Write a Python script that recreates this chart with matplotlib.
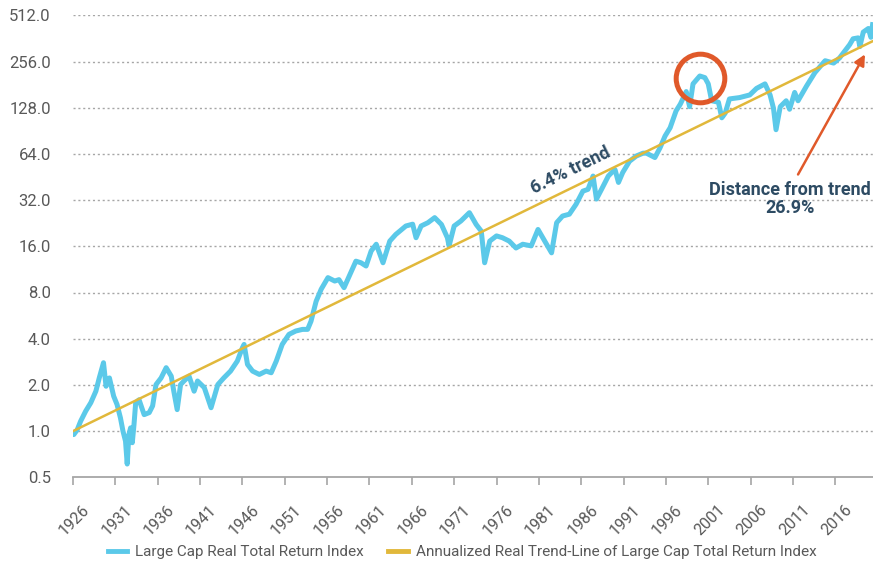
import numpy as np
import matplotlib
matplotlib.use("Agg")
import matplotlib.pyplot as plt
from matplotlib.lines import Line2D
from matplotlib.transforms import ScaledTranslation

plt.rcParams['font.family'] = ['Roboto', 'DejaVu Sans']

# Large cap real total return index (1926 = 1.0)
years = [1926.0, 1926.1, 1926.5, 1926.9, 1927.5, 1928.1, 1928.7, 1929.1, 1929.6, 1929.9,
         1930.3, 1930.8, 1931.2, 1931.6, 1931.9, 1932.2, 1932.4, 1932.6, 1932.8, 1933.0,
         1933.2, 1933.4, 1933.8, 1934.4, 1935.0, 1935.4, 1935.8, 1936.4, 1937.0, 1937.6,
         1937.9, 1938.3, 1938.7, 1939.1, 1939.7, 1940.3, 1940.7, 1941.5, 1942.3, 1943.1,
         1943.8, 1944.6, 1945.4, 1946.0, 1946.2, 1946.6, 1947.2, 1948.0, 1948.8, 1949.4,
         1950.0, 1950.7, 1951.5, 1952.3, 1953.1, 1953.7, 1954.1, 1954.7, 1955.3, 1956.1,
         1956.9, 1957.4, 1958.0, 1958.6, 1959.4, 1960.0, 1960.6, 1961.2, 1961.8, 1962.6,
         1963.4, 1964.1, 1965.3, 1966.1, 1966.5, 1967.1, 1967.9, 1968.7, 1969.5, 1970.2,
         1970.4, 1971.0, 1971.8, 1972.8, 1973.6, 1974.2, 1974.6, 1975.2, 1976.0, 1976.7,
         1977.5, 1978.3, 1979.1, 1980.1, 1980.9, 1981.7, 1982.5, 1983.1, 1983.8, 1984.6,
         1985.4, 1986.2, 1986.8, 1987.4, 1987.8, 1988.4, 1989.2, 1989.6, 1990.0, 1990.4,
         1990.9, 1991.7, 1992.5, 1993.3, 1993.7, 1994.7, 1995.3, 1995.9, 1996.5, 1997.2,
         1997.7, 1998.4, 1998.8, 1999.2, 2000.0, 2000.6, 2001.0, 2001.4, 2002.2, 2002.6,
         2003.0, 2003.5, 2004.7, 2005.9, 2006.7, 2007.7, 2008.3, 2008.7, 2009.0, 2009.5,
         2010.2, 2010.6, 2011.2, 2011.6, 2012.6, 2013.6, 2014.8, 2015.8, 2016.5, 2017.7,
         2018.1, 2018.7, 2018.9, 2019.3, 2019.9, 2020.2, 2020.4]
index_vals = [0.95, 0.95, 1.02, 1.16, 1.35, 1.53, 1.82, 2.22, 2.79, 1.96,
              2.22, 1.69, 1.49, 1.22, 1.00, 0.86, 0.61, 0.95, 1.05, 0.84,
              1.10, 1.53, 1.60, 1.28, 1.32, 1.46, 2.01, 2.22, 2.59, 2.28,
              1.82, 1.38, 2.01, 2.12, 2.28, 1.82, 2.12, 1.92, 1.42, 2.01,
              2.22, 2.46, 2.86, 3.49, 3.67, 2.72, 2.46, 2.34, 2.46, 2.40,
              2.86, 3.67, 4.27, 4.49, 4.60, 4.60, 5.2, 7.0, 8.4, 10.0,
              9.5, 9.7, 8.6, 10.2, 12.8, 12.5, 11.9, 14.9, 16.5, 12.5,
              17.3, 19.1, 21.7, 22.3, 18.2, 21.7, 22.8, 24.6, 22.2, 18.2,
              16.1, 21.7, 23.4, 26.5, 22.2, 20.1, 12.5, 17.3, 18.7, 18.2,
              17.3, 15.6, 16.5, 16.1, 20.6, 17.3, 14.5, 22.8, 25.2, 25.9,
              30.1, 36.6, 37.6, 45.9, 32.5, 37.6, 45.9, 48.4, 50.4, 41.7,
              48.4, 57.3, 62.0, 64.7, 64.7, 60.6, 70.0, 83.7, 94.8, 122,
              135, 163, 130, 183, 206, 201, 183, 142, 139, 110,
              118, 146, 149, 155, 171, 183, 155, 127, 92, 130,
              142, 125, 161, 142, 177, 217, 259, 250, 270, 330,
              360, 365, 320, 398, 420, 368, 445]

# annualized 6.4% trend line (end points)
trend_years = [1926.0, 2020.45]
trend_vals = [1.0, 348.0]

tick_years = list(range(1926, 2017, 5))
y_ticks = [0.5, 1, 2, 4, 8, 16, 32, 64, 128, 256, 512]

blue = '#5BC9E9'
gold = '#E1B83B'
orange = '#E0592A'
navy = '#2D4B63'
grey_txt = '#595959'

fig = plt.figure(figsize=(8.73, 5.62), dpi=100)
ax = fig.add_axes([73 / 873, 1 - 477.3 / 562, 1 - 73 / 873, (477.3 - 15.3) / 562])

ax.plot(years, index_vals, color=blue, lw=3.6, solid_joinstyle='round', zorder=3)
ax.plot(trend_years, trend_vals, color=gold, lw=1.8, zorder=4)

ax.set_yscale('log', base=2)
ax.set_ylim(0.5, 512)
ax.set_xlim(1926, 2020.45)
ax.set_yticks(y_ticks)
ax.set_yticklabels([f"{v:.1f}" for v in y_ticks])
ax.minorticks_off()
ax.set_xticks(tick_years)
ax.set_xticklabels([str(y) for y in tick_years], rotation=45, ha='right',
                   rotation_mode='anchor')

for v in y_ticks[1:]:
    ax.axhline(v, color='#A6A6A6', lw=1.0, ls=(0, (1.5, 2)), zorder=1)

for s in ['top', 'right', 'left']:
    ax.spines[s].set_visible(False)
ax.spines['bottom'].set_color('#A6A6A6')
ax.spines['bottom'].set_linewidth(1.3)
ax.tick_params(axis='y', length=0, pad=16, labelsize=12, labelcolor=grey_txt)
ax.tick_params(axis='x', length=6, width=1.2, color='#A6A6A6', pad=12,
               labelsize=11.5, labelcolor=grey_txt)
for lbl in ax.get_xticklabels():
    lbl.set_transform(lbl.get_transform() + ScaledTranslation(9 / 100, 0, fig.dpi_scale_trans))

# circle around 2000 peak
ax.plot(2000.05, 200, marker='o', ms=35, mfc='none', mec=orange, mew=3.6, zorder=5, clip_on=False)

# trend label
ax.text(1984.8, 49.5, '6.4% trend', rotation=26, rotation_mode='anchor',
        ha='center', va='center', fontsize=13, fontweight='bold', color=navy)

# distance from trend
ax.annotate('', xy=(2019.5, 285), xytext=(2011.6, 47),
            arrowprops=dict(arrowstyle='-|>', color=orange, lw=1.8,
                            mutation_scale=16, shrinkA=0, shrinkB=0))
ax.text(2010.6, 32.5, 'Distance from trend\n26.9%', ha='center', va='center',
        fontsize=13, fontweight='bold', color=navy, linespacing=1.05)

handles = [Line2D([], [], color=blue, lw=3.5),
           Line2D([], [], color=gold, lw=3.5)]
labels = ['Large Cap Real Total Return Index',
          'Annualized Real Trend-Line of Large Cap Total Return Index']
fig.legend(handles, labels, loc='center', bbox_to_anchor=(462 / 873, 1 - 552 / 562),
           ncol=2, frameon=False, fontsize=11, handlelength=1.3, handletextpad=0.5,
           columnspacing=1.6, labelcolor=grey_txt)

fig.savefig('out.png', dpi=100)
